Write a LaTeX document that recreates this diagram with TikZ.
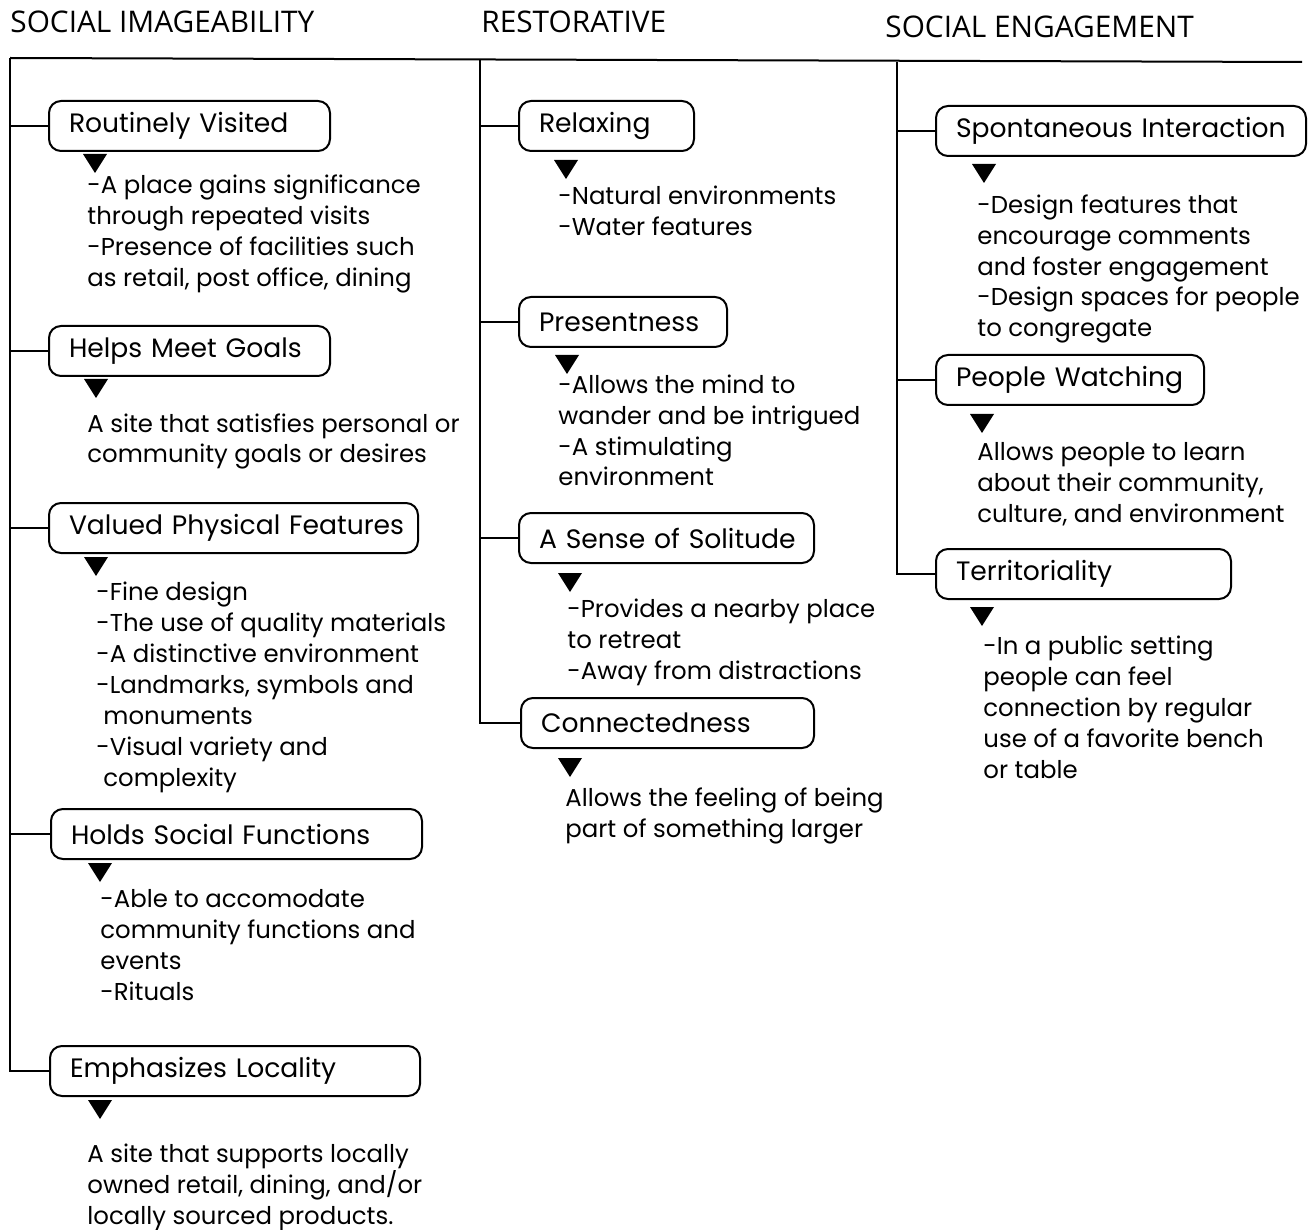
\documentclass[tikz,border=0pt]{standalone}
\usepackage{fontspec}
\setmainfont{Poppins}
\newfontfamily\headfont{Open Sans}
\usepackage{tikz}

\begin{document}
\begin{tikzpicture}[x=0.5pt, y=-0.5pt,
    cat/.style={draw, line width=1pt, rounded corners=6pt, minimum height=25pt,
        inner xsep=10pt, inner ysep=0pt, anchor=west, align=left,
        execute at begin node=\mbox\bgroup, execute at end node=\egroup,
        font=\fontsize{13.3}{15}\selectfont},
    desc/.style={anchor=base west, inner sep=0pt, align=left,
        font=\fontsize{12.2}{15.5}\selectfont},
    head/.style={anchor=base west, inner sep=0pt,
        font=\headfont\fontsize{14.9}{16}\selectfont},
    link/.style={line width=1pt}]
    \useasboundingbox (0,0) rectangle (1313,1230);

    % Column headings
    \node[head] (h1) at (10,33) {SOCIAL IMAGEABILITY};
    \node[head] (h2) at (481,33) {RESTORATIVE};
    \node[head] (h3) at (885,38) {SOCIAL ENGAGEMENT};

    % Top rule and trunks
    \coordinate (t1) at (10,58);
    \coordinate (t2) at (480,60);
    \coordinate (t3) at (897,62);
    \coordinate (tend) at (1302,62);
    \draw[link] (t1) -- (tend);

    % Social imageability (desc nodes sit on the baseline of their last line)
    \node[cat, text width=120.5pt] (rv) at (48,126) {Routinely Visited};
    \node[cat, text width=120.5pt] (hm) at (48,351) {Helps Meet Goals};
    \node[cat, text width=164.5pt] (vp) at (48,528) {Valued Physical Features};
    \node[cat, text width=165.5pt] (hs) at (50,834) {Holds Social Functions};
    \node[cat, text width=165pt] (el) at (49,1071) {Emphasizes Locality};

    \node[desc] (rvt) at (87,287) {-A place gains significance\\through repeated visits\\-Presence of facilities such\\as retail, post office, dining};
    \node[desc] (hmt) at (87,463) {A site that satisfies personal or\\community goals or desires};
    \node[desc] (vpt) at (96,786) {-Fine design\\-The use of quality materials\\-A distinctive environment\\-Landmarks, symbols and\\\hspace*{3.5pt}monuments\\-Visual variety and\\\hspace*{3.5pt}complexity};
    \node[desc] (hst) at (100,1000) {-Able to accomodate\\community functions and\\events\\-Rituals};
    \node[desc] (elt) at (87,1224) {A site that supports locally\\owned retail, dining, and/or\\locally sourced products.};

    \draw[link] (t1) |- (el.west);
    \foreach \n in {rv,hm,vp,hs}
        \draw[link] (t1 |- \n.west) -- (\n.west);

    % Restorative
    \node[cat, text width=67.5pt] (rx) at (518,126) {Relaxing};
    \node[cat, text width=84pt] (pr) at (518,322) {Presentness};
    \node[cat, text width=127.5pt] (so) at (518,538) {A Sense of Solitude};
    \node[cat, text width=126.5pt] (cn) at (520,723) {Connectedness};

    \node[desc] (rxt) at (558,236) {-Natural environments\\-Water features};
    \node[desc] (prt) at (558,486) {-Allows the mind to\\wander and be intrigued\\-A stimulating\\environment};
    \node[desc] (sot) at (567,679) {-Provides a nearby place\\to retreat\\-Away from distractions};
    \node[desc] (cnt) at (565,837) {Allows the feeling of being\\part of something larger};

    \draw[link] (t2) |- (cn.west);
    \foreach \n in {rx,pr,so}
        \draw[link] (t2 |- \n.west) -- (\n.west);

    % Social engagement
    \node[cat, text width=165pt] (si) at (935,131) {Spontaneous Interaction};
    \node[cat, text width=114pt] (pw) at (935,380) {People Watching};
    \node[cat, text width=127.5pt] (te) at (935,574) {Territoriality};

    \node[desc] (sit) at (977,337) {-Design features that\\encourage comments\\and foster engagement\\-Design spaces for people\\to congregate};
    \node[desc] (pwt) at (977,522) {Allows people to learn\\about their community,\\culture, and environment};
    \node[desc] (tet) at (983,778) {-In a public setting\\people can feel\\connection by regular\\use of a favorite bench\\or table};

    \draw[link] (t3) |- (te.west);
    \foreach \n in {si,pw}
        \draw[link] (t3 |- \n.west) -- (\n.west);

    % Pointers under each heading box
    \foreach \x/\y in {95/154, 96/379, 96/557, 100/863, 100/1100,
                       566/160, 567/355, 570/573, 570/758,
                       984/164, 982/414, 982/607}
        \fill (\x-12,\y) -- (\x+12,\y) -- (\x,\y+19) -- cycle;
\end{tikzpicture}
\end{document}
